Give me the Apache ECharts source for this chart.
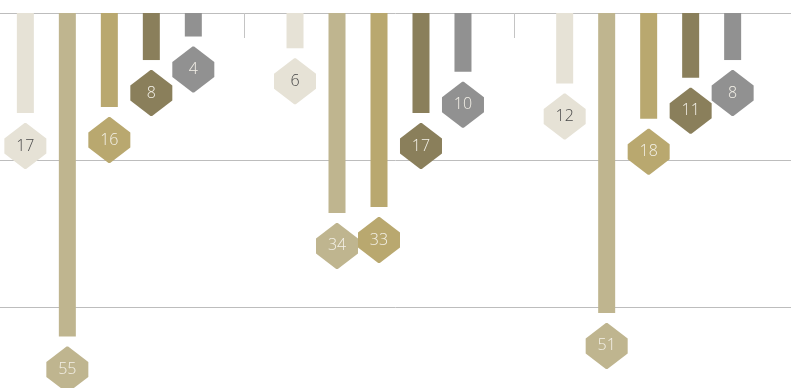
<!DOCTYPE html>
<html>
<head>
<meta charset="utf-8">
<script src="https://cdn.jsdelivr.net/npm/echarts@6/dist/echarts.min.js"></script>
<style>
html,body{margin:0;padding:0;background:#fff;}
#chart{width:791px;height:388px;}
</style>
</head>
<body>
<div id="chart"></div>
<script>
// groups along the x axis (their names are not shown in the picture)
const groups = ['A', 'B', 'C']
// one array per colour, in bar order inside each group
const serie1 = [17, 6, 12]
const serie2 = [55, 34, 51]
const serie3 = [16, 33, 18]
const serie4 = [8, 17, 11]
const serie5 = [4, 10, 8]
const yTicks = [0, 25, 50, 75]

const seriesData = [serie1, serie2, serie3, serie4, serie5]
const colors = ['#e6e2d6', '#bfb58f', '#b9a86f', '#8a7f5b', '#919191']
const textColors = ['#4a4a4a', '#f4f1e8', '#f4f1e8', '#f4f1e8', '#f4f1e8']

// diamond with flat sides, used for the value tags
const tag = 'path://M-0.8,-23 L0.8,-23 L21,-7.5 L21,7.5 L0.8,23 L-0.8,23 L-21,7.5 L-21,-7.5 Z'

const yBase = {
	type: 'value',
	inverse: true,
	min: yTicks[0],
	max: yTicks[yTicks.length - 1],
	interval: yTicks[1] - yTicks[0],
	axisLine: {show: false},
	axisTick: {show: false},
	axisLabel: {show: false}
}

const option = {
	animation: false,
	grid: [
		{left: 0, right: 0, top: 13, height: 441, outerBoundsMode: 'none'}, // horizontal rules
		{left: -25.5, right: 7.5, top: 13, height: 441, outerBoundsMode: 'none'}, // bars
		{left: -25.5, right: 7.5, top: 13, height: 25, outerBoundsMode: 'none'} // group separators
	],
	xAxis: [
		{gridIndex: 0, type: 'category', data: groups, show: false},
		{
			gridIndex: 1, type: 'category', data: groups, position: 'top',
			axisLine: {show: false}, axisTick: {show: false}, axisLabel: {show: false}
		},
		{
			gridIndex: 2, type: 'category', data: groups, position: 'top',
			axisLine: {show: false}, axisTick: {show: false}, axisLabel: {show: false},
			splitLine: {
				show: true, showMinLine: false, showMaxLine: false,
				lineStyle: {color: '#c4c4c4', width: 1}
			}
		}
	],
	yAxis: [
		Object.assign({gridIndex: 0, splitLine: {show: true, lineStyle: {color: '#bdbdbd', width: 1}}}, yBase),
		Object.assign({gridIndex: 1, splitLine: {show: false}}, yBase),
		{gridIndex: 2, type: 'value', show: false, splitLine: {show: false}}
	],
	series: seriesData.map((d, i) => ({
		type: 'bar',
		xAxisIndex: 1,
		yAxisIndex: 1,
		data: d,
		barWidth: 17,
		barGap: '147%',
		itemStyle: {color: colors[i]},
		markPoint: {
			symbol: tag,
			symbolSize: [42, 46],
			symbolOffset: [0, 33],
			itemStyle: {color: colors[i]},
			label: {
				show: true,
				position: 'inside',
				color: textColors[i],
				fontFamily: 'Open Sans',
				fontWeight: 300,
				fontSize: 16,
				formatter: p => p.value
			},
			data: d.map((v, j) => ({coord: [j, v], value: v}))
		}
	}))
}

let myChart = echarts.init(document.getElementById('chart'))
myChart.setOption(option)
</script>
</body>
</html>
